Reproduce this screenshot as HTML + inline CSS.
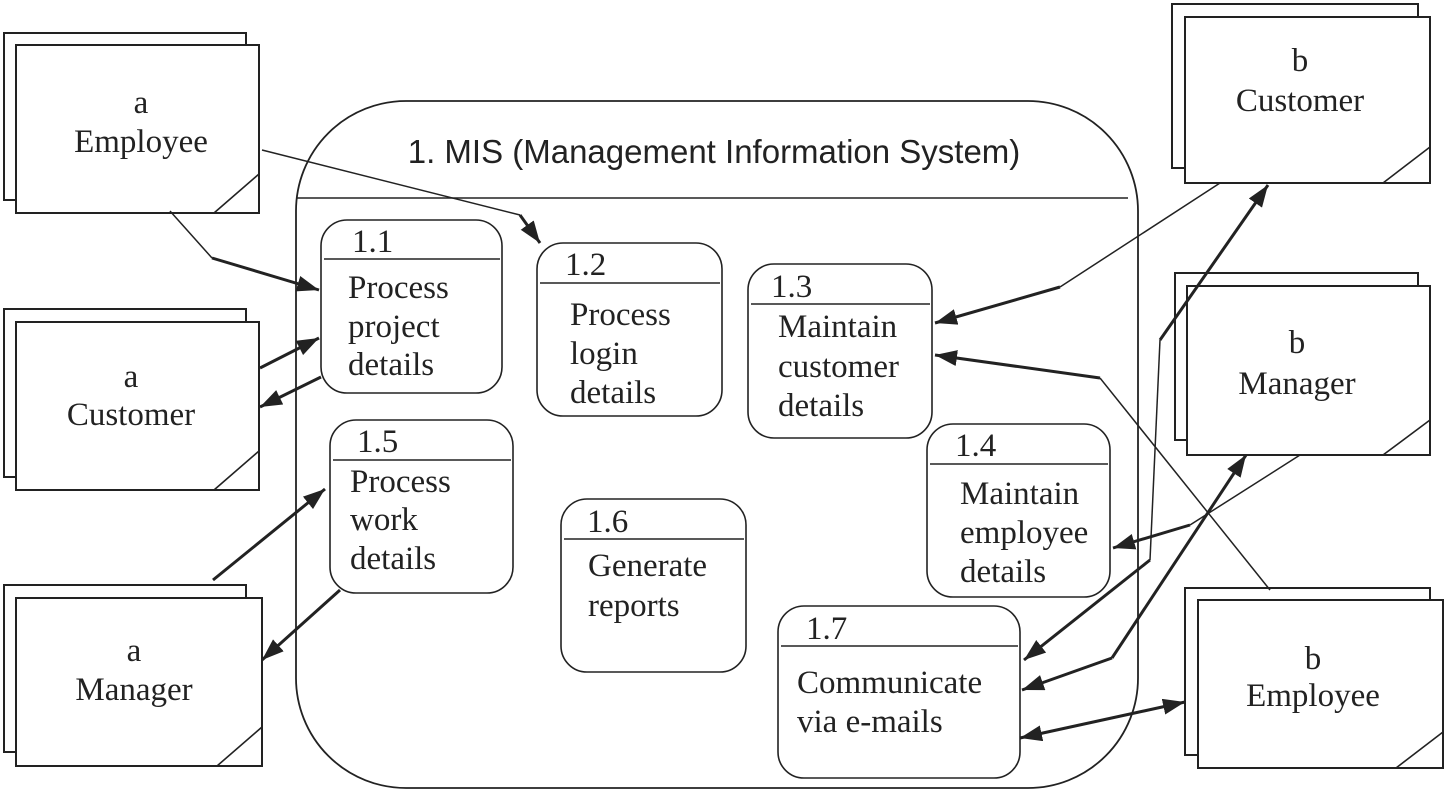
<!DOCTYPE html>
<html><head><meta charset="utf-8"><style>
html,body{margin:0;padding:0;background:#fff}
svg{display:block}
.s{font-family:"Liberation Serif",serif;font-size:33px;fill:#222}
</style></head><body>
<svg width="1446" height="792" viewBox="0 0 1446 792" xmlns="http://www.w3.org/2000/svg">
<defs>
<marker id="a" markerUnits="userSpaceOnUse" markerWidth="24" markerHeight="18" refX="22" refY="8" orient="auto-start-reverse">
<path d="M0,0 L22,8 L0,16 Z" fill="#222"/>
</marker>
</defs>
<g fill="#fff" stroke="#222" stroke-width="2">
<rect x="4" y="33" width="242" height="167"/><rect x="16" y="45" width="243" height="168"/>
<rect x="4" y="309" width="242" height="168"/><rect x="16" y="322" width="243" height="168"/>
<rect x="4" y="585" width="242" height="167"/><rect x="16" y="598" width="246" height="168"/>
<rect x="1172" y="4" width="246" height="164"/><rect x="1185" y="17" width="245" height="166"/>
<rect x="1175" y="273" width="243" height="167"/><rect x="1187" y="286" width="243" height="169"/>
<rect x="1185" y="588" width="245" height="167"/><rect x="1198" y="600" width="245" height="168"/>
</g>
<g stroke="#222" stroke-width="1.6" fill="none">
<line x1="214" y1="213" x2="259" y2="174"/>
<line x1="214" y1="490" x2="259" y2="451"/>
<line x1="217" y1="766" x2="262" y2="727"/>
<line x1="1383" y1="183" x2="1430" y2="147"/>
<line x1="1383" y1="455" x2="1430" y2="420"/>
<line x1="1396" y1="768" x2="1443" y2="732"/>
<rect x="296" y="101" width="842" height="687" rx="110" ry="110" stroke-width="1.8"/>
<line x1="297" y1="198" x2="1128" y2="198"/>
<rect x="321" y="220" width="181" height="173" rx="26"/><line x1="324" y1="259" x2="500" y2="259"/>
<rect x="537" y="243" width="185" height="173" rx="26"/><line x1="540" y1="283" x2="720" y2="283"/>
<rect x="748" y="264" width="184" height="174" rx="26"/><line x1="751" y1="304" x2="930" y2="304"/>
<rect x="927" y="424" width="183" height="173" rx="26"/><line x1="930" y1="464" x2="1108" y2="464"/>
<rect x="330" y="420" width="183" height="173" rx="26"/><line x1="333" y1="460" x2="511" y2="460"/>
<rect x="561" y="499" width="185" height="173" rx="26"/><line x1="564" y1="539" x2="744" y2="539"/>
<rect x="778" y="606" width="242" height="172" rx="26"/><line x1="781" y1="646" x2="1018" y2="646"/>
</g>
<g stroke="#222" stroke-width="1.5" fill="none">
<polyline points="262,150 520,215"/>
<polyline points="170,211 212,258"/>
<polyline points="1220,183 1060,287"/>
<polyline points="1270,590 1100,378"/>
<polyline points="1300,455 1190,525"/>
<polyline points="1160,340 1150,560"/>
</g>
<g stroke="#222" stroke-width="3" fill="none">
<path d="M520,215 L540,243" marker-end="url(#a)"/>
<path d="M212,258 L319,290" marker-end="url(#a)"/>
<path d="M260,368 L319,338" marker-end="url(#a)"/>
<path d="M321,377 L260,407" marker-end="url(#a)"/>
<path d="M213,580 L325,489" marker-end="url(#a)"/>
<path d="M340,590 L262,660" marker-end="url(#a)"/>
<path d="M1060,287 L935,323" marker-end="url(#a)"/>
<path d="M1100,378 L935,355" marker-end="url(#a)"/>
<path d="M1190,525 L1113,548" marker-end="url(#a)"/>
<path d="M1160,340 L1268,185" marker-end="url(#a)"/>
<path d="M1150,560 L1024,660" marker-end="url(#a)"/>
<path d="M1112,658 L1246,455" marker-end="url(#a)"/>
<path d="M1112,658 L1022,690" marker-end="url(#a)"/>
<path d="M1020,738 L1185,702" marker-start="url(#a)" marker-end="url(#a)"/>
</g>
<text x="714" y="163" text-anchor="middle" font-family="Liberation Sans, sans-serif" font-size="33" fill="#222">1. MIS (Management Information System)</text>
<g text-anchor="middle">
<text x="141" y="113" class="s">a</text><text x="141" y="152" class="s">Employee</text>
<text x="131" y="387" class="s">a</text><text x="131" y="425" class="s">Customer</text>
<text x="134" y="661" class="s">a</text><text x="134" y="700" class="s">Manager</text>
<text x="1300" y="71" class="s">b</text><text x="1300" y="111" class="s">Customer</text>
<text x="1297" y="353" class="s">b</text><text x="1297" y="394" class="s">Manager</text>
<text x="1313" y="669" class="s">b</text><text x="1313" y="706" class="s">Employee</text>
</g>
<g>
<text x="352" y="252" class="s">1.1</text>
<text x="348" y="298" class="s">Process</text><text x="348" y="337" class="s">project</text><text x="348" y="375" class="s">details</text>
<text x="565" y="275" class="s">1.2</text>
<text x="570" y="325" class="s">Process</text><text x="570" y="364" class="s">login</text><text x="570" y="403" class="s">details</text>
<text x="771" y="297" class="s">1.3</text>
<text x="778" y="337" class="s">Maintain</text><text x="778" y="377" class="s">customer</text><text x="778" y="416" class="s">details</text>
<text x="955" y="456" class="s">1.4</text>
<text x="960" y="504" class="s">Maintain</text><text x="960" y="543" class="s">employee</text><text x="960" y="582" class="s">details</text>
<text x="357" y="452" class="s">1.5</text>
<text x="350" y="492" class="s">Process</text><text x="350" y="530" class="s">work</text><text x="350" y="569" class="s">details</text>
<text x="587" y="532" class="s">1.6</text>
<text x="588" y="576" class="s">Generate</text><text x="588" y="616" class="s">reports</text>
<text x="806" y="639" class="s">1.7</text>
<text x="797" y="693" class="s">Communicate</text><text x="797" y="732" class="s">via e-mails</text>
</g>
</svg>
</body></html>
